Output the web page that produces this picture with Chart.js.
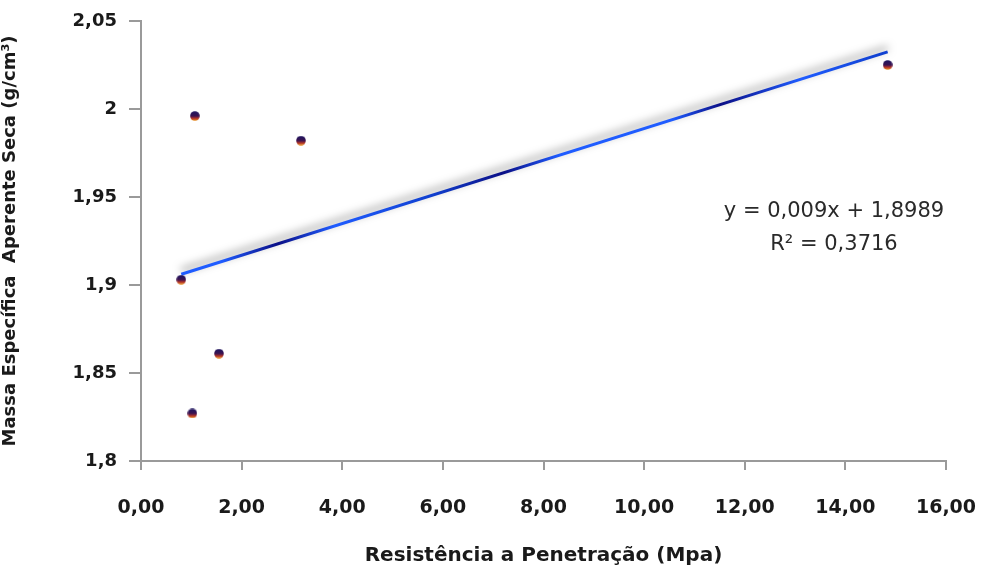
<!DOCTYPE html>
<html>
<head>
<meta charset="utf-8">
<script src="https://cdn.jsdelivr.net/npm/chart.js@4/dist/chart.umd.min.js"></script>
<style>
  html, body { margin: 0; padding: 0; background: #fff; }
  #wrap { width: 983px; height: 579px; position: relative; }
</style>
</head>
<body>
<div id="wrap"><canvas id="chart"></canvas></div>
<script>
// Data
const resistencia = [0.80, 1.07, 3.18, 1.55, 1.02, 14.84];
const massa = [1.903, 1.996, 1.982, 1.861, 1.827, 2.025];

// Linear trend as printed on the chart
const slope = 0.009;
const intercept = 1.8989;
const r2 = 0.3716;
const trendX = [Math.min(...resistencia), Math.max(...resistencia)];

const xTitle = 'Resistência a Penetração (Mpa)';
const yTitle = 'Massa Específica  Aperente Seca (g/cm³)';
const fontFam = '"DejaVu Sans", sans-serif';

// marker: small dot, dark on top, orange at the bottom
function makeDot() {
  const c = document.createElement('canvas');
  c.width = 10; c.height = 10;
  const g = c.getContext('2d');
  const grad = g.createLinearGradient(0, 0, 0, 10);
  grad.addColorStop(0, '#1b1560');
  grad.addColorStop(0.5, '#3a1250');
  grad.addColorStop(0.72, '#b0302a');
  grad.addColorStop(1, '#f0a020');
  g.fillStyle = grad;
  g.beginPath();
  g.arc(5, 5, 4.8, 0, Math.PI * 2);
  g.fill();
  return c;
}
const dot = makeDot();

const fmtComma = (v, d) => parseFloat(v.toFixed(d)).toString().replace('.', ',');

const shadowPlugin = {
  id: 'lineShadow',
  beforeDatasetDraw(chart, args) {
    if (args.index !== 1) return;
    const ctx = chart.ctx;
    ctx.save();
    ctx.shadowColor = 'rgba(0,0,0,0.5)';
    ctx.shadowBlur = 9;
    ctx.shadowOffsetX = 0;
    ctx.shadowOffsetY = -4;
  },
  afterDatasetDraw(chart, args) {
    if (args.index !== 1) return;
    chart.ctx.restore();
  }
};

const equationPlugin = {
  id: 'equation',
  afterDraw(chart) {
    const ctx = chart.ctx;
    ctx.save();
    ctx.fillStyle = '#2a2a2a';
    ctx.font = '21px ' + fontFam;
    ctx.textAlign = 'center';
    ctx.textBaseline = 'middle';
    ctx.fillText('y = ' + fmtComma(slope, 3) + 'x + ' + fmtComma(intercept, 4), 834, 212);
    ctx.fillText('R² = ' + fmtComma(r2, 4), 834, 245);
    ctx.restore();
  }
};

const ctx = document.getElementById('chart');
new Chart(ctx, {
  data: {
    datasets: [{
      type: 'scatter',
      data: resistencia.map((x, i) => ({ x: x, y: massa[i] })),
      pointStyle: dot,
      pointRadius: 5,
      order: 0
    }, {
      type: 'line',
      data: trendX.map(x => ({ x: x, y: slope * x + intercept })),
      borderColor: (c) => {
        const area = c.chart.chartArea;
        if (!area) return '#1a4fe0';
        const g = c.chart.ctx.createLinearGradient(area.left, 0, area.right, 0);
        g.addColorStop(0.00, '#1f5cff');
        g.addColorStop(0.10, '#1f5cff');
        g.addColorStop(0.17, '#0b0f86');
        g.addColorStop(0.24, '#1f5cff');
        g.addColorStop(0.36, '#1040d0');
        g.addColorStop(0.45, '#0b0f86');
        g.addColorStop(0.52, '#1f5cff');
        g.addColorStop(0.66, '#1f5cff');
        g.addColorStop(0.72, '#0b0f86');
        g.addColorStop(0.82, '#1f5cff');
        g.addColorStop(0.92, '#1040d0');
        g.addColorStop(1.00, '#1f5cff');
        return g;
      },
      borderWidth: 3,
      pointRadius: 0,
      fill: false,
      order: 1
    }]
  },
  options: {
    responsive: true,
    maintainAspectRatio: false,
    animation: false,
    layout: { padding: { top: 21, right: 37, left: 0, bottom: 0 } },
    plugins: {
      legend: { display: false },
      tooltip: { enabled: false }
    },
    scales: {
      x: {
        type: 'linear',
        min: 0, max: 16,
        ticks: {
          stepSize: 2,
          padding: 27,
          color: '#1a1a1a',
          font: { family: fontFam, size: 19, weight: 'bold' },
          callback: v => v.toFixed(2).replace('.', ',')
        },
        grid: { drawOnChartArea: false, tickLength: 9, color: '#9a9a9a', lineWidth: 2 },
        border: { color: '#9a9a9a', width: 2 },
        title: {
          display: true, text: xTitle, color: '#1a1a1a',
          font: { family: fontFam, size: 20, weight: 'bold' },
          padding: { top: 4, bottom: 11 }
        },
        afterFit: s => { s.height = 118; s.paddingLeft = 0; s.paddingRight = 0; }
      },
      y: {
        type: 'linear',
        min: 1.8, max: 2.05,
        ticks: {
          stepSize: 0.05,
          padding: 12,
          color: '#1a1a1a',
          font: { family: fontFam, size: 18, weight: 'bold' },
          callback: v => fmtComma(v, 2)
        },
        grid: { drawOnChartArea: false, tickLength: 12, color: '#9a9a9a', lineWidth: 2 },
        border: { color: '#9a9a9a', width: 2 },
        title: {
          display: true, text: yTitle, color: '#1a1a1a',
          font: { family: fontFam, size: 18, weight: 'bold' },
          padding: { top: 0, bottom: 2 }
        },
        afterFit: s => { s.width = 141; s.paddingTop = 0; s.paddingBottom = 0; }
      }
    }
  },
  plugins: [shadowPlugin, equationPlugin]
});
</script>
</body>
</html>
